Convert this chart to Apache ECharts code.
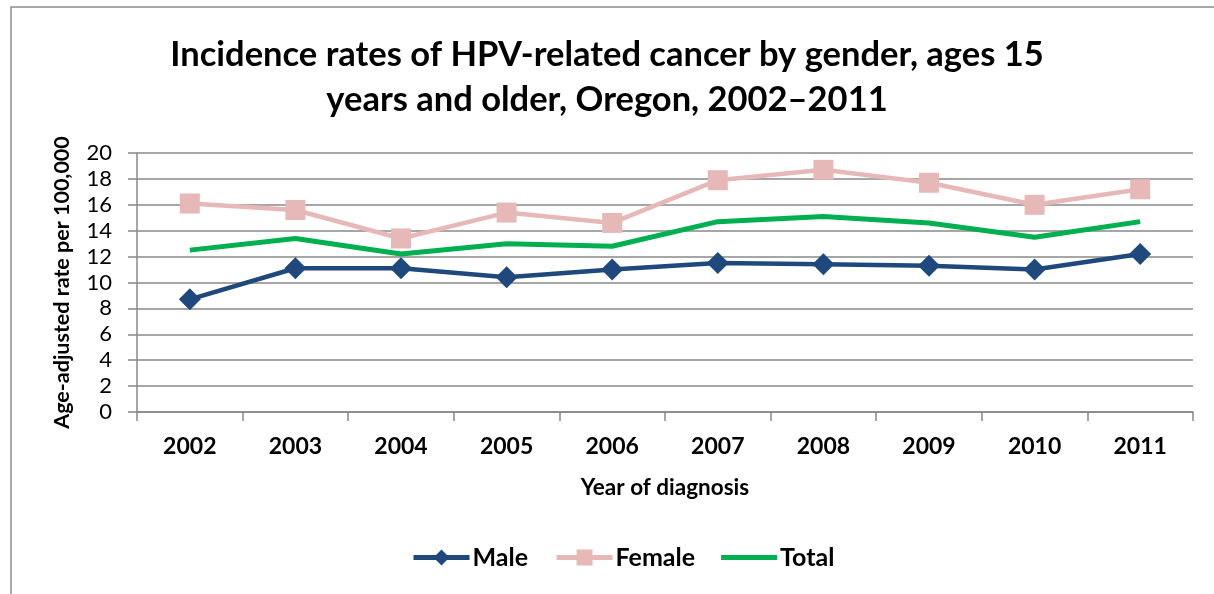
<!DOCTYPE html>
<html>
<head>
<meta charset="utf-8">
<script src="https://cdn.jsdelivr.net/npm/echarts@6/dist/echarts.min.js"></script>
<style>
  html, body { margin: 0; padding: 0; background: #fff; }
  #chart { width: 1214px; height: 594px; }
</style>
</head>
<body>
<div id="chart"></div>
<script>
var years = ['2002', '2003', '2004', '2005', '2006', '2007', '2008', '2009', '2010', '2011'];
var male = [8.7, 11.1, 11.1, 10.4, 11.0, 11.5, 11.4, 11.3, 11.0, 12.2];
var female = [16.1, 15.6, 13.4, 15.4, 14.6, 17.9, 18.7, 17.7, 16.0, 17.2];
var total = [12.5, 13.4, 12.2, 13.0, 12.8, 14.7, 15.1, 14.6, 13.5, 14.7];

var fontFam = 'Lato, "Open Sans", sans-serif';
var gridColor = '#888888';

var myChart = echarts.init(document.getElementById('chart'));
var option = {
    backgroundColor: '#fff',
    textStyle: { fontFamily: fontFam },
    graphic: [{
        type: 'rect',
        shape: { x: 11, y: 7, width: 1215, height: 600 },
        style: { fill: 'none', stroke: '#8c8c8c', lineWidth: 1.5 },
        silent: true
    }],
    title: {
        text: 'Incidence rates of HPV-related cancer by gender, ages 15\nyears and older, Oregon, 2002\u20132011',
        left: 'center',
        top: 27,
        textStyle: {
            fontFamily: fontFam,
            fontSize: 34.5,
            fontWeight: 'bold',
            color: '#000',
            lineHeight: 45
        }
    },
    legend: {
        bottom: 19,
        left: 406,
        itemWidth: 56,
        itemHeight: 20,
        itemGap: 26,
        lineStyle: { width: 5 },
        data: [
            { name: 'Male' },
            { name: 'Female' },
            { name: 'Total', icon: 'path://M0,0H56V5H0Z' }
        ],
        textStyle: { fontFamily: fontFam, fontSize: 25, fontWeight: 'bold', color: '#000', padding: [0, 0, 0, -2] }
    },
    grid: {
        left: 137,
        right: 21,
        top: 153,
        bottom: 182,
        containLabel: false
    },
    xAxis: {
        type: 'category',
        data: years,
        boundaryGap: true,
        name: 'Year of diagnosis',
        nameLocation: 'middle',
        nameGap: 64,
        nameTextStyle: { fontFamily: fontFam, fontSize: 22.5, fontWeight: 'bold', color: '#000' },
        axisLine: { lineStyle: { color: gridColor, width: 1.5 } },
        axisTick: { show: true, length: 9, alignWithLabel: false, lineStyle: { color: gridColor, width: 1.5 } },
        axisLabel: { fontFamily: fontFam, fontSize: 23, fontWeight: 'bold', color: '#000', margin: 23 }
    },
    yAxis: {
        type: 'value',
        min: 0,
        max: 20,
        interval: 2,
        name: 'Age-adjusted rate per 100,000',
        nameLocation: 'middle',
        nameGap: 64,
        nameTextStyle: { fontFamily: fontFam, fontSize: 21.5, fontWeight: 'bold', color: '#000' },
        axisLine: { show: true, lineStyle: { color: gridColor, width: 1.5 } },
        axisTick: { show: true, inside: false, length: 9, lineStyle: { color: gridColor, width: 1.5 } },
        axisLabel: { fontFamily: fontFam, fontSize: 22, color: '#000', margin: 25 },
        splitLine: { show: true, lineStyle: { color: gridColor, width: 1.5 } }
    },
    series: [
        {
            name: 'Male',
            type: 'line',
            data: male,
            symbol: 'diamond',
            symbolSize: 22,
            itemStyle: { color: '#1f497d' },
            lineStyle: { color: '#1f497d', width: 4.5 },
            z: 4
        },
        {
            name: 'Female',
            type: 'line',
            data: female,
            symbol: 'rect',
            symbolSize: 20,
            itemStyle: { color: '#e6b9b8' },
            lineStyle: { color: '#e6b9b8', width: 4.5 },
            z: 3
        },
        {
            name: 'Total',
            type: 'line',
            data: total,
            symbol: 'none',
            itemStyle: { color: '#00b050' },
            lineStyle: { color: '#00b050', width: 5 },
            z: 2
        }
    ]
};
myChart.setOption(option);
</script>
</body>
</html>
